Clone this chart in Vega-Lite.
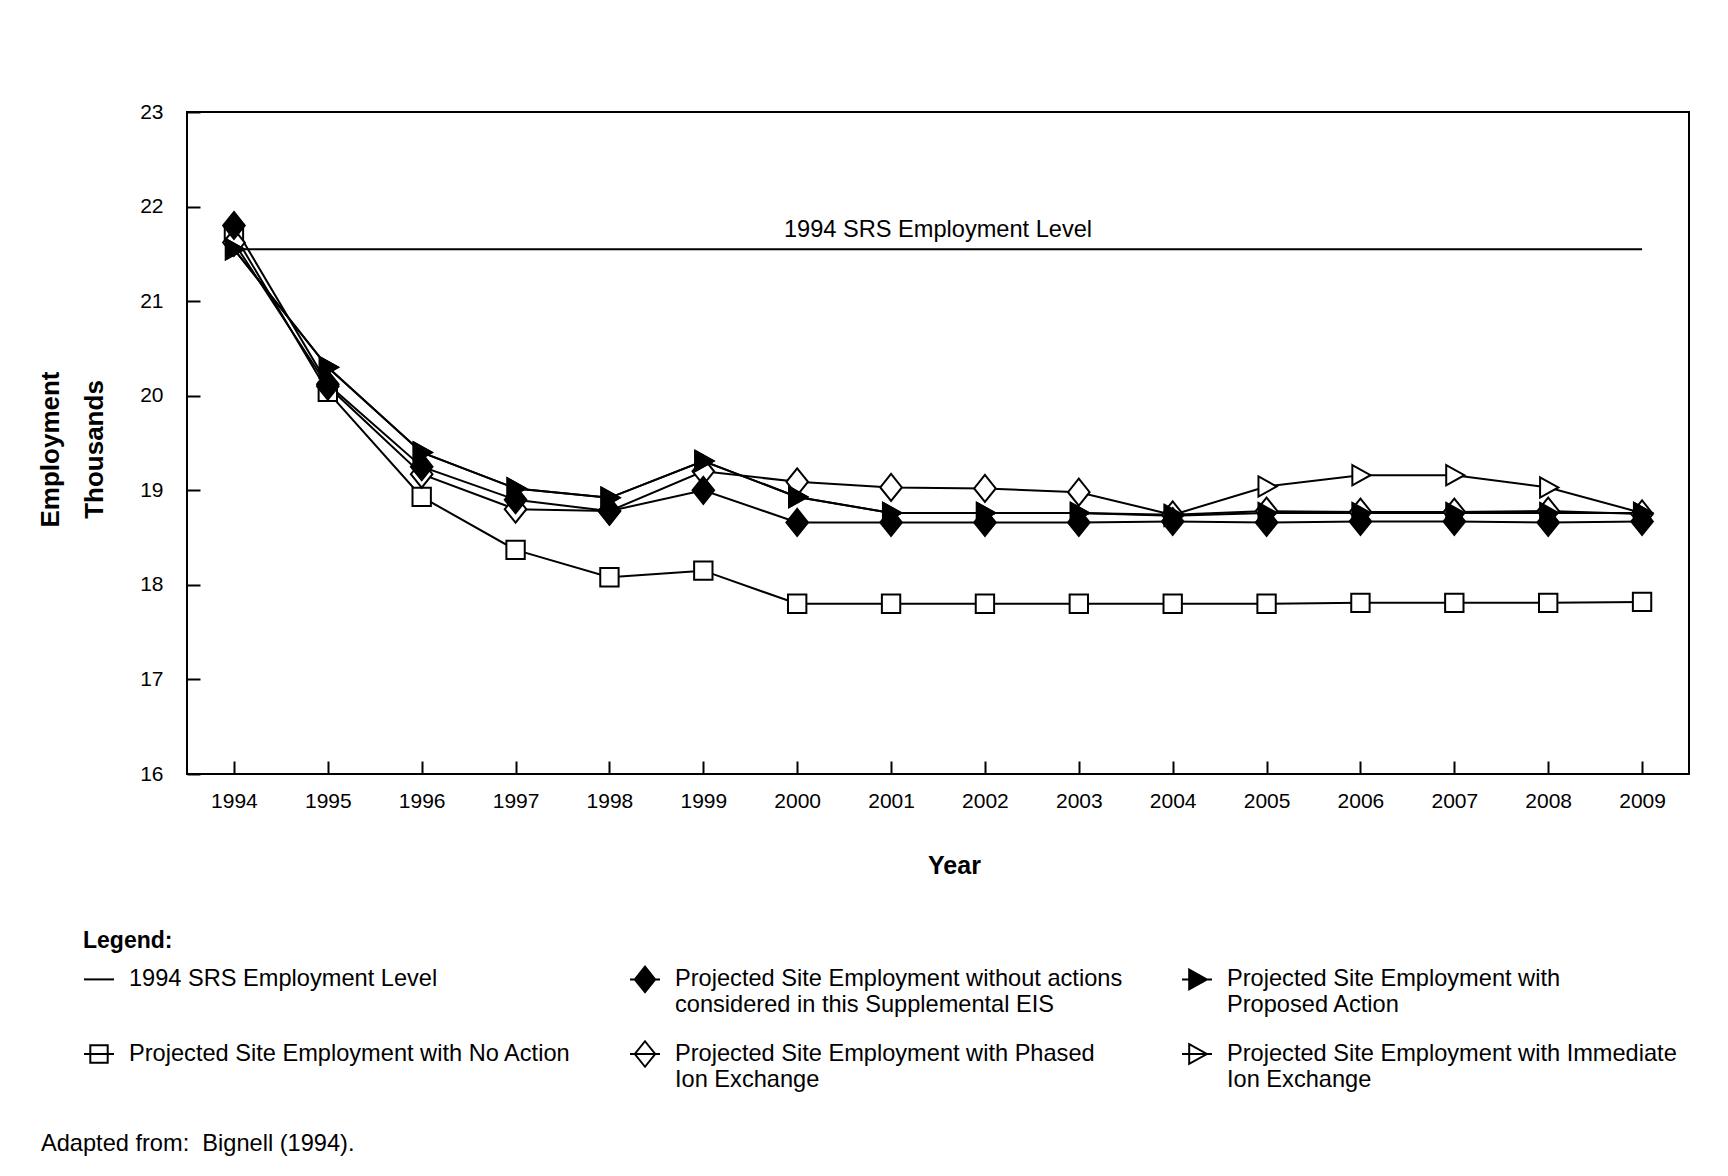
{
  "$schema": "https://vega.github.io/schema/vega-lite/v6.json",
  "width": 1502,
  "height": 662,
  "autosize": {"type": "none"},
  "padding": {"left": 187, "top": 112, "right": 39, "bottom": 402},
  "background": "white",
  "config": {
    "font": "Liberation Sans",
    "view": {"stroke": "black", "strokeWidth": 2},
    "axis": {"grid": false, "domain": false, "tickColor": "black", "tickWidth": 2, "labelColor": "black", "titleColor": "black"},
    "legend": {"symbolStrokeWidth": 2}
  },
  "title": {
    "text": "Adapted from:\u00a0 Bignell (1994).",
    "orient": "bottom",
    "anchor": "start",
    "frame": "bounds",
    "fontSize": 23.6,
    "fontWeight": "normal",
    "color": "black",
    "offset": 40,
    "dx": 4
  },
  "data": {
    "values": [
      {"series": "srs", "year": 1994, "value": 21.55},
      {"series": "srs", "year": 2009, "value": 21.55},
      {"series": "na", "year": 1994, "value": 21.71},
      {"series": "na", "year": 1995, "value": 20.04},
      {"series": "na", "year": 1996, "value": 18.93},
      {"series": "na", "year": 1997, "value": 18.37},
      {"series": "na", "year": 1998, "value": 18.08},
      {"series": "na", "year": 1999, "value": 18.15},
      {"series": "na", "year": 2000, "value": 17.8},
      {"series": "na", "year": 2001, "value": 17.8},
      {"series": "na", "year": 2002, "value": 17.8},
      {"series": "na", "year": 2003, "value": 17.8},
      {"series": "na", "year": 2004, "value": 17.8},
      {"series": "na", "year": 2005, "value": 17.8},
      {"series": "na", "year": 2006, "value": 17.81},
      {"series": "na", "year": 2007, "value": 17.81},
      {"series": "na", "year": 2008, "value": 17.81},
      {"series": "na", "year": 2009, "value": 17.82},
      {"series": "pie", "year": 1994, "value": 21.62},
      {"series": "pie", "year": 1995, "value": 20.1},
      {"series": "pie", "year": 1996, "value": 19.17},
      {"series": "pie", "year": 1997, "value": 18.8},
      {"series": "pie", "year": 1998, "value": 18.78},
      {"series": "pie", "year": 1999, "value": 19.2},
      {"series": "pie", "year": 2000, "value": 19.09},
      {"series": "pie", "year": 2001, "value": 19.03},
      {"series": "pie", "year": 2002, "value": 19.02},
      {"series": "pie", "year": 2003, "value": 18.98},
      {"series": "pie", "year": 2004, "value": 18.74},
      {"series": "pie", "year": 2005, "value": 18.78},
      {"series": "pie", "year": 2006, "value": 18.77},
      {"series": "pie", "year": 2007, "value": 18.77},
      {"series": "pie", "year": 2008, "value": 18.78},
      {"series": "pie", "year": 2009, "value": 18.75},
      {"series": "iie", "year": 1994, "value": 21.55},
      {"series": "iie", "year": 1995, "value": 20.3},
      {"series": "iie", "year": 1996, "value": 19.4},
      {"series": "iie", "year": 1997, "value": 19.02},
      {"series": "iie", "year": 1998, "value": 18.92},
      {"series": "iie", "year": 1999, "value": 19.31},
      {"series": "iie", "year": 2000, "value": 18.93},
      {"series": "iie", "year": 2001, "value": 18.76},
      {"series": "iie", "year": 2002, "value": 18.76},
      {"series": "iie", "year": 2003, "value": 18.76},
      {"series": "iie", "year": 2004, "value": 18.74},
      {"series": "iie", "year": 2005, "value": 19.04},
      {"series": "iie", "year": 2006, "value": 19.16},
      {"series": "iie", "year": 2007, "value": 19.16},
      {"series": "iie", "year": 2008, "value": 19.03},
      {"series": "iie", "year": 2009, "value": 18.76},
      {"series": "wo", "year": 1994, "value": 21.8},
      {"series": "wo", "year": 1995, "value": 20.12},
      {"series": "wo", "year": 1996, "value": 19.25},
      {"series": "wo", "year": 1997, "value": 18.9},
      {"series": "wo", "year": 1998, "value": 18.78},
      {"series": "wo", "year": 1999, "value": 19.0},
      {"series": "wo", "year": 2000, "value": 18.66},
      {"series": "wo", "year": 2001, "value": 18.66},
      {"series": "wo", "year": 2002, "value": 18.66},
      {"series": "wo", "year": 2003, "value": 18.66},
      {"series": "wo", "year": 2004, "value": 18.67},
      {"series": "wo", "year": 2005, "value": 18.66},
      {"series": "wo", "year": 2006, "value": 18.67},
      {"series": "wo", "year": 2007, "value": 18.67},
      {"series": "wo", "year": 2008, "value": 18.66},
      {"series": "wo", "year": 2009, "value": 18.67},
      {"series": "pa", "year": 1994, "value": 21.55},
      {"series": "pa", "year": 1995, "value": 20.3},
      {"series": "pa", "year": 1996, "value": 19.4},
      {"series": "pa", "year": 1997, "value": 19.02},
      {"series": "pa", "year": 1998, "value": 18.92},
      {"series": "pa", "year": 1999, "value": 19.31},
      {"series": "pa", "year": 2000, "value": 18.93},
      {"series": "pa", "year": 2001, "value": 18.76},
      {"series": "pa", "year": 2002, "value": 18.76},
      {"series": "pa", "year": 2003, "value": 18.76},
      {"series": "pa", "year": 2004, "value": 18.73},
      {"series": "pa", "year": 2005, "value": 18.76},
      {"series": "pa", "year": 2006, "value": 18.76},
      {"series": "pa", "year": 2007, "value": 18.76},
      {"series": "pa", "year": 2008, "value": 18.76},
      {"series": "pa", "year": 2009, "value": 18.76}
    ]
  },
  "encoding": {
    "x": {
      "field": "year",
      "type": "quantitative",
      "scale": {"domain": [1993.5, 2009.5], "nice": false, "zero": false},
      "axis": {
        "values": [1994, 1995, 1996, 1997, 1998, 1999, 2000, 2001, 2002, 2003, 2004, 2005, 2006, 2007, 2008, 2009],
        "format": "d",
        "tickSize": -13,
        "labelPadding": 29,
        "labelFontSize": 21,
        "title": "Year",
        "titleFontSize": 25,
        "titleFontWeight": "bold",
        "titleX": 767,
        "titleY": 91,
        "titleBaseline": "middle"
      }
    },
    "y": {
      "field": "value",
      "type": "quantitative",
      "scale": {"domain": [16, 23], "nice": false, "zero": false},
      "axis": {
        "values": [16, 17, 18, 19, 20, 21, 22, 23],
        "tickSize": -13,
        "labelPadding": 37,
        "labelFontSize": 21,
        "title": ["Employment", "Thousands"],
        "titleFontSize": 26,
        "titleFontWeight": "bold",
        "titleLineHeight": 44,
        "titleAngle": -90,
        "titleX": -137,
        "titleY": 337,
        "titleAlign": "center",
        "titleBaseline": "middle"
      }
    }
  },
  "layer": [
    {
      "mark": {"type": "line", "color": "black", "strokeWidth": 2},
      "encoding": {"detail": {"field": "series"}}
    },
    {
      "transform": [{"filter": "datum.series == 'srs'"}],
      "mark": {"type": "text", "fontSize": 23.6, "color": "black", "dy": -19, "align": "center", "baseline": "middle"},
      "encoding": {
        "x": {"aggregate": "mean", "field": "year", "type": "quantitative"},
        "y": {"aggregate": "mean", "field": "value", "type": "quantitative"},
        "text": {"value": "1994 SRS Employment Level"}
      }
    },
    {
      "transform": [{"filter": "datum.series != 'srs'"}],
      "mark": {"type": "point", "size": 729, "stroke": "black", "strokeWidth": 2, "opacity": 1},
      "encoding": {
        "shape": {
          "field": "series",
          "scale": {
            "domain": ["wo", "pa", "na", "pie", "iie"],
            "range": [
              "M0,-1L0.8,0L0,1L-0.8,0Z",
              "M-0.6,-0.75L0.75,0L-0.6,0.75Z",
              "M-0.68,-0.68H0.68V0.68H-0.68Z",
              "M0,-1L0.8,0L0,1L-0.8,0Z",
              "M-0.6,-0.75L0.75,0L-0.6,0.75Z"
            ]
          },
          "legend": null
        },
        "fill": {
          "field": "series",
          "scale": {"domain": ["wo", "pa", "na", "pie", "iie"], "range": ["black", "black", "white", "white", "white"]},
          "legend": null
        }
      }
    },
    {
      "transform": [{"filter": "false"}],
      "mark": {"type": "point", "stroke": "black", "strokeWidth": 2, "opacity": 1},
      "encoding": {
        "shape": {
          "field": "series",
          "scale": {
            "domain": ["srs", "wo", "pa", "na", "pie", "iie"],
            "range": [
              "M-1,0H1",
              "M0,-0.85L0.68,0L0,0.85L-0.68,0ZM-1,0H1",
              "M-0.52,-0.66L0.66,0L-0.52,0.66ZM-1,0H1",
              "M-0.58,-0.58H0.58V0.58H-0.58ZM-1,0H1",
              "M0,-0.85L0.68,0L0,0.85L-0.68,0ZM-1,0H1",
              "M-0.52,-0.66L0.66,0L-0.52,0.66ZM-1,0H1"
            ]
          },
          "legend": {
            "title": "Legend:",
            "orient": "none",
            "direction": "horizontal",
            "legendX": -104,
            "legendY": 818,
            "columns": 3,
            "columnPadding": 55,
            "rowPadding": 20,
            "titleFontSize": 23,
            "titleFontWeight": "bold",
            "titleColor": "black",
            "titlePadding": 10,
            "labelFontSize": 23.6,
            "labelColor": "black",
            "labelLimit": 800,
            "labelOffset": 14,
            "symbolSize": 900,
            "symbolStrokeWidth": 2,
            "labelExpr": "datum.label == 'srs' ? ['1994 SRS Employment Level', ''] : datum.label == 'wo' ? ['Projected Site Employment without actions', 'considered in this Supplemental EIS'] : datum.label == 'pa' ? ['Projected Site Employment with', 'Proposed Action'] : datum.label == 'na' ? 'Projected Site Employment with No Action' : datum.label == 'pie' ? ['Projected Site Employment with Phased', 'Ion Exchange'] : ['Projected Site Employment with Immediate', 'Ion Exchange']"
          }
        },
        "fill": {
          "field": "series",
          "scale": {"domain": ["srs", "wo", "pa", "na", "pie", "iie"], "range": ["black", "black", "black", "white", "white", "white"]},
          "legend": {
            "title": "Legend:",
            "orient": "none",
            "direction": "horizontal",
            "legendX": -104,
            "legendY": 818,
            "columns": 3,
            "symbolStrokeWidth": 2
          }
        }
      }
    }
  ],
  "resolve": {"scale": {"shape": "independent", "fill": "independent"}}
}
